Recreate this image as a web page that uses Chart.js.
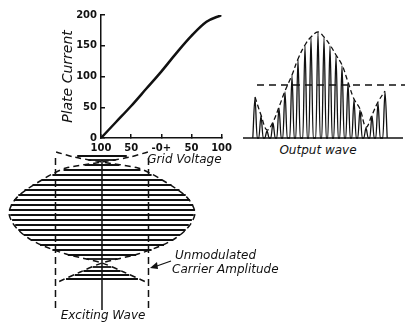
<!DOCTYPE html>
<html>
<head>
<meta charset="utf-8">
<script src="https://cdn.jsdelivr.net/npm/chart.js@4/dist/chart.umd.min.js"></script>
<style>
  body { margin: 0; background: #fff; }
  #wrap { position: relative; width: 405px; height: 324px; overflow: hidden; font-family: "DejaVu Sans", sans-serif; color: #111; }
  canvas { position: absolute; }
  .lbl { position: absolute; font-style: italic; font-size: 12px; white-space: nowrap; line-height: 13px; }
</style>
</head>
<body>
<div id="wrap">
  <canvas id="plate" width="240" height="175" style="left:0;top:0"></canvas>
  <canvas id="output" width="165" height="112" style="left:240px;top:28px"></canvas>
  <canvas id="exciting" width="210" height="179" style="left:0;top:145px"></canvas>

  <div class="lbl" style="left:318px;top:144px;transform:translateX(-50%)">Output wave</div>
  <div class="lbl" style="left:103px;top:309px;transform:translateX(-50%)">Exciting Wave</div>
  <div class="lbl" style="left:175px;top:249px">Unmodulated</div>
  <div class="lbl" style="left:172px;top:263px">Carrier Amplitude</div>
  <svg width="405" height="324" style="position:absolute;left:0;top:0">
    <line x1="171" y1="261" x2="154" y2="267" stroke="#111" stroke-width="1.3"/>
    <polygon points="150,268 157,262 158,269" fill="#111"/>
  </svg>
</div>
<script>
// plate characteristic
const gridVolts = [-100, -75, -50, -25, 0, 25, 50, 75, 100];
const plateCurrent = [0, 26, 52, 80, 108, 138, 166, 189, 200];
const xTickLabels = ['100', '50', '-0+', '50', '100'];

// output wave: pulse positions (time) and heights, plus the dashed reference level
const pulseTime = [15, 21, 27, 33, 39, 45, 52, 58, 65, 71, 78, 84, 90, 96, 102, 108, 114, 120, 126, 132, 138, 145];
const pulseHeight = [40, 22, 7, 15, 30, 46, 62, 78, 92, 100, 105, 100, 92, 82, 72, 55, 38, 28, 10, 22, 35, 46];
const baseTime = [3, 163];
const levelTime = [17, 165];
const levelHeight = 53;

// exciting wave (time runs downward), grid volts about the bias point
const bias = -100;
const envTime = [2, 7, 12, 18, 24, 30, 38, 46, 54, 63, 72, 80, 88, 96, 104, 113, 122, 132];
const envAmp = [-74, -45, 0, 58, 80, 97, 118, 135, 145, 150, 145, 135, 119, 94, 58, 0, -35, -71];
const carrierTime = [6, 10, 15, 20, 25, 30, 35, 40, 45, 50, 55, 60, 65, 70, 75, 80, 85, 90, 95, 100, 105, 109, 117, 121, 125, 129];
const carrierAmp = [40, -22, 28, -62, 80, -97, 112, -125, 135, -142, 147, -150, 148, -145, 140, -135, 126, -115, 100, -80, 55, -25, 15, -30, 44, -58];
const carrierLevel = 75;
const centerTime = [10, 160];
const markerTime = [8, 158];

const ink = '#111';
const tickFont = { family: 'DejaVu Sans', size: 10, weight: 'bold' };
const noPlugins = { legend: { display: false }, tooltip: { enabled: false } };

// top chart: plate current vs grid voltage
new Chart(document.getElementById('plate'), {
  type: 'line',
  data: {
    datasets: [{
      data: gridVolts.map((v, i) => ({ x: v, y: plateCurrent[i] })),
      borderColor: ink,
      borderWidth: 2.5,
      pointRadius: 0,
      cubicInterpolationMode: 'monotone'
    }]
  },
  options: {
    responsive: false,
    animation: false,
    layout: { padding: { left: 60, top: 15, right: 15, bottom: 8 } },
    plugins: noPlugins,
    scales: {
      x: {
        type: 'linear', min: -100, max: 100,
        ticks: { stepSize: 50, padding: 8, color: ink, font: tickFont, maxRotation: 0,
          callback: (v, i) => xTickLabels[i] },
        grid: { drawOnChartArea: false, tickLength: -4, color: ink, lineWidth: 1.5 },
        border: { color: ink, width: 1.5 },
        title: { display: true, text: 'Grid Voltage', align: 'end', padding: 0, color: ink,
          font: { family: 'DejaVu Sans', size: 12, style: 'italic' } },
        afterFit: s => { s.height = 29; }
      },
      y: {
        min: 0, max: 200,
        ticks: { stepSize: 50, padding: 8, color: ink, font: tickFont },
        grid: { drawOnChartArea: false, tickLength: -4, color: ink, lineWidth: 1.5 },
        border: { color: ink, width: 1.5 },
        title: { display: true, text: 'Plate Current', padding: 0, color: ink,
          font: { family: 'DejaVu Sans', size: 14, style: 'italic' } },
        afterFit: s => { s.width = 41; }
      }
    }
  }
});

// output wave: each pulse is a narrow arch on the baseline
const pulsePoints = [];
pulseTime.forEach((t, i) => {
  pulsePoints.push({ x: t - 2.2, y: 0 }, { x: t, y: pulseHeight[i] }, { x: t + 2.2, y: 0 });
});

new Chart(document.getElementById('output'), {
  type: 'scatter',
  data: {
    datasets: [
      { data: baseTime.map(t => ({ x: t, y: 0 })), showLine: true, borderColor: ink, borderWidth: 1.5, pointRadius: 0 },
      { data: pulsePoints, showLine: true, borderColor: ink, borderWidth: 1.3, pointRadius: 0, cubicInterpolationMode: 'monotone' },
      { data: pulseTime.map((t, i) => ({ x: t, y: pulseHeight[i] + 1 })), showLine: true, borderColor: ink, borderWidth: 1.3,
        borderDash: [5, 3], pointRadius: 0, tension: 0.4 },
      { data: levelTime.map(t => ({ x: t, y: levelHeight })), showLine: true, borderColor: ink, borderWidth: 1.5,
        borderDash: [7, 5], pointRadius: 0 }
    ]
  },
  options: {
    responsive: false,
    animation: false,
    plugins: noPlugins,
    scales: {
      x: { display: false, min: 0, max: 165 },
      y: { display: false, min: -2, max: 110 }
    }
  }
});

// exciting wave: each carrier swing drawn as a horizontal stroke across the envelope
const carrierPoints = [];
carrierTime.forEach((t, i) => {
  carrierPoints.push({ x: bias - carrierAmp[i], y: t }, { x: bias + carrierAmp[i], y: t });
});

const line = (pts, extra) => Object.assign({ data: pts, showLine: true, borderColor: ink, borderWidth: 1.5, pointRadius: 0 }, extra);

new Chart(document.getElementById('exciting'), {
  type: 'scatter',
  data: {
    datasets: [
      line(carrierPoints, {
        borderWidth: 1.8,
        // only the strokes are inked, the hops between them stay blank
        segment: { borderColor: ctx => (ctx.p0DataIndex % 2 === 0 ? ink : 'rgba(0,0,0,0)') }
      }),
      line(envTime.map((t, i) => ({ x: bias + envAmp[i], y: t })), { borderDash: [6, 4], tension: 0.3 }),
      line(envTime.map((t, i) => ({ x: bias - envAmp[i], y: t })), { borderDash: [6, 4], tension: 0.3 }),
      line(centerTime.map(t => ({ x: bias, y: t })), { borderWidth: 1.5 }),
      line(markerTime.map(t => ({ x: bias - carrierLevel, y: t })), { borderDash: [7, 4] }),
      line(markerTime.map(t => ({ x: bias + carrierLevel, y: t })), { borderDash: [7, 4] })
    ]
  },
  options: {
    responsive: false,
    animation: false,
    plugins: noPlugins,
    scales: {
      x: { display: false, min: -264.5, max: 74.2 },
      y: { display: false, reverse: true, min: -5, max: 174 }
    }
  }
});
</script>
</body>
</html>
